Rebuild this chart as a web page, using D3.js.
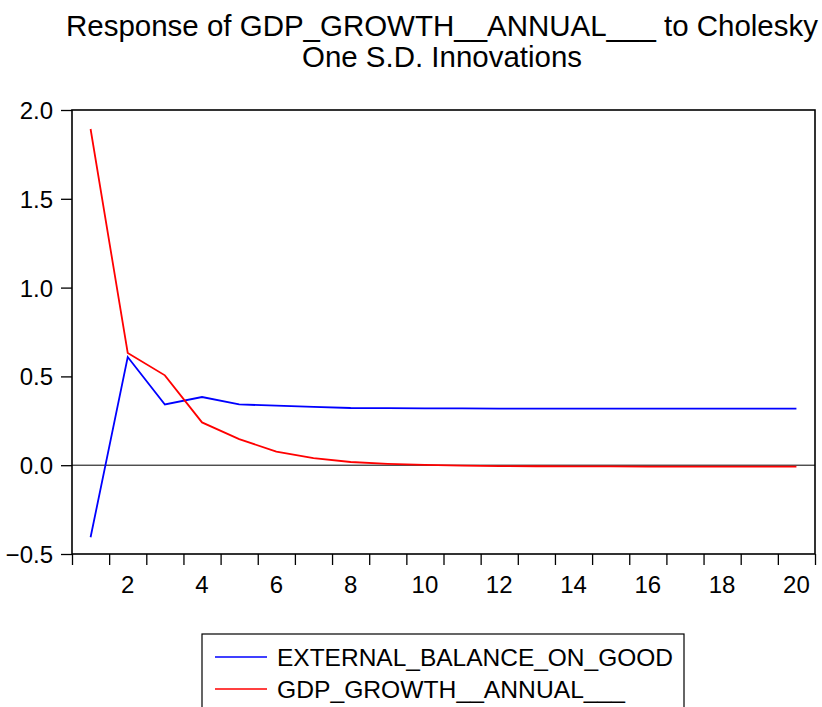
<!DOCTYPE html>
<html><head><meta charset="utf-8">
<script src="https://cdn.jsdelivr.net/npm/d3@7"></script>
<style>body{margin:0;background:#fff}svg{display:block}text{font-family:"Liberation Sans",Arial,sans-serif;fill:#000}</style>
</head><body><svg id="c" width="822" height="707"></svg>
<script>
const periods = d3.range(1, 21);
const tickLabels = [2,4,6,8,10,12,14,16,18,20];
const yTicks = [-0.5, 0.0, 0.5, 1.0, 1.5, 2.0];
const seriesNames = ["EXTERNAL_BALANCE_ON_GOOD", "GDP_GROWTH__ANNUAL___"];
const externalBalance = [-0.406, 0.609, 0.342, 0.384, 0.342, 0.335, 0.328, 0.322, 0.321, 0.320, 0.320, 0.319, 0.319, 0.319, 0.319, 0.319, 0.319, 0.319, 0.319, 0.319];
const gdpGrowth = [1.893, 0.632, 0.506, 0.241, 0.147, 0.076, 0.040, 0.018, 0.008, 0.002, -0.002, -0.005, -0.006, -0.007, -0.007, -0.008, -0.008, -0.008, -0.008, -0.008];
const colors = ["#0000ff", "#ff0000"];
const titleLines = ["Response of GDP_GROWTH__ANNUAL___ to Cholesky", "One S.D. Innovations"];

const svg = d3.select("#c");
const L = 72, R = 815, T = 110, B = 554;
const x = d3.scaleBand().domain(periods).range([L, R]);
const y = d3.scaleLinear().domain([-0.5, 2.0]).range([B, T]);

// title
svg.append("text").attr("x", 442).attr("y", 36).attr("text-anchor", "middle")
  .attr("font-size", 29).attr("textLength", 752).attr("lengthAdjust", "spacingAndGlyphs").text(titleLines[0]);
svg.append("text").attr("x", 442).attr("y", 67).attr("text-anchor", "middle")
  .attr("font-size", 29).attr("textLength", 280).attr("lengthAdjust", "spacingAndGlyphs").text(titleLines[1]);

// y axis
const yAxis = d3.axisLeft(y).tickValues(yTicks).tickFormat(d3.format(".1f")).tickSize(11).tickPadding(8);
const ga = svg.append("g").attr("transform", `translate(${L},0)`).call(yAxis);
ga.select(".domain").remove();
ga.selectAll("line").attr("stroke", "#000").attr("stroke-width", 1.3);
ga.selectAll("text").attr("font-size", 24).attr("font-family", "Liberation Sans, Arial, sans-serif").attr("dy", "0.35em");

// x axis ticks at band boundaries
const xb = d3.scaleLinear().domain([0, 20]).range([L, R]);
const gx = svg.append("g").attr("transform", `translate(0,${B})`)
  .call(d3.axisBottom(xb).tickValues(d3.range(0, 21)).tickFormat("").tickSize(11));
gx.select(".domain").remove();
gx.selectAll("line").attr("stroke", "#000").attr("stroke-width", 1.3);
svg.append("g").selectAll("text").data(tickLabels).join("text")
  .attr("x", d => x(d) + x.bandwidth() / 2).attr("y", B + 39)
  .attr("text-anchor", "middle").attr("font-size", 24).text(d => d);

// zero line
svg.append("line").attr("x1", L).attr("x2", R).attr("y1", y(0)).attr("y2", y(0))
  .attr("stroke", "#000").attr("stroke-width", 1);

// series
const line = d3.line().x((d, i) => x(periods[i]) + x.bandwidth() / 2).y(d => y(d));
[externalBalance, gdpGrowth].forEach((s, k) => {
  svg.append("path").datum(s).attr("d", line).attr("fill", "none")
    .attr("stroke", colors[k]).attr("stroke-width", 1.8).attr("stroke-linejoin", "miter");
});

// frame
svg.append("rect").attr("x", L).attr("y", T).attr("width", R - L).attr("height", B - T)
  .attr("fill", "none").attr("stroke", "#000").attr("stroke-width", 1.6);

// legend
const legendLens = [396, 348];
const lg = svg.append("g");
lg.append("rect").attr("x", 202).attr("y", 634).attr("width", 482).attr("height", 90)
  .attr("fill", "none").attr("stroke", "#000").attr("stroke-width", 1.2);
seriesNames.forEach((n, k) => {
  const yy = 657 + k * 32;
  lg.append("line").attr("x1", 215).attr("x2", 267).attr("y1", yy).attr("y2", yy)
    .attr("stroke", colors[k]).attr("stroke-width", 1.6);
  lg.append("text").attr("x", 277).attr("y", yy + 8.5).attr("font-size", 24)
    .attr("textLength", legendLens[k]).attr("lengthAdjust", "spacingAndGlyphs").text(n);
});
</script></body></html>
